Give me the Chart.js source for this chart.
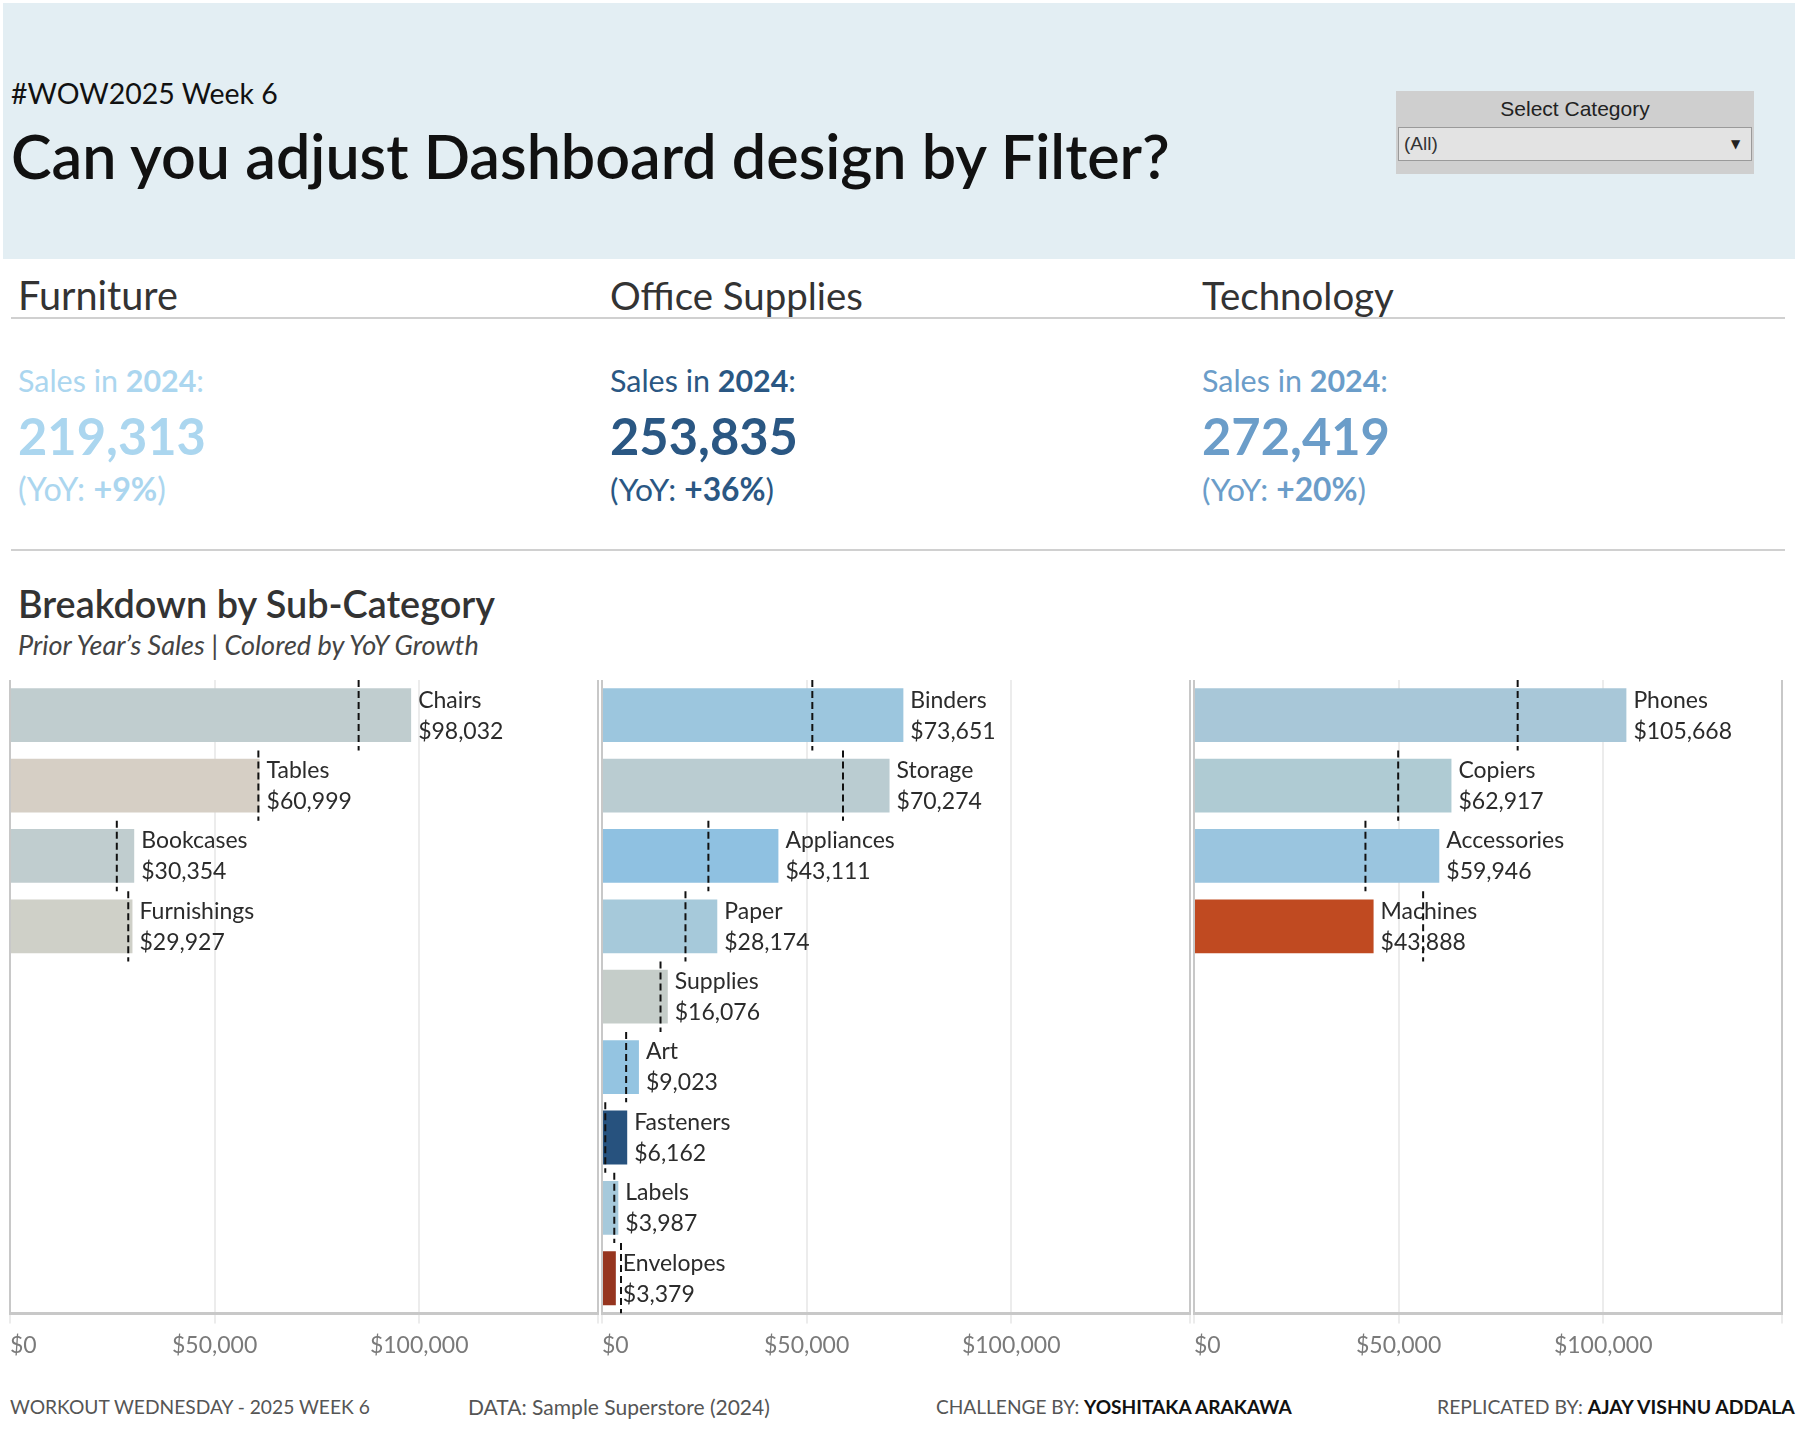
<!DOCTYPE html>
<html>
<head>
<meta charset="utf-8">
<title>WOW2025 Week 6</title>
<script src="https://cdn.jsdelivr.net/npm/chart.js@4.4.1/dist/chart.umd.min.js"></script>
<style>
  body { margin: 0; width: 1798px; height: 1436px; position: relative; overflow: hidden; background: #fff; font-family: Lato, 'Noto Sans', sans-serif; color: #333; }
  .abs { position: absolute; white-space: nowrap; line-height: 1.2; transform: translateY(-50%); }
  .box { position: absolute; }
  .rule { position: absolute; height: 2px; background: #d0d0d0; }
  .panel { position: absolute; top: 670px; width: 606px; height: 697px; }
  .foot { color: #555; font-size: 19px; }
  .foot b { color: #111; }
</style>
</head>
<body>

<div class="box" style="left:3px;top:3px;width:1792px;height:256px;background:#e3eef3"></div>
<div class="abs" style="left:11px;top:93px;font-size:27px;color:#111" data-w="267">#WOW2025 Week 6</div>
<div class="abs" style="left:11px;top:156px;font-size:56px;font-weight:600;color:#111" data-w="1159">Can you adjust Dashboard design by Filter?</div>

<div class="box" style="left:1396px;top:91px;width:358px;height:83px;background:#cfcfcf"></div>
<div class="abs" style="left:1396px;top:109px;width:358px;text-align:center;font-family:'Liberation Sans',Arial,sans-serif;font-size:21px;color:#222">Select Category</div>
<div class="box" style="left:1398px;top:127px;width:352px;height:32px;background:#e3e3e3;border:1px solid #9a9a9a"></div>
<div class="abs" style="left:1404px;top:144px;font-family:'Liberation Sans',Arial,sans-serif;font-size:19px;color:#333">(All)</div>
<div class="abs" style="left:1731px;top:144px;font-family:'DejaVu Sans',sans-serif;font-size:12px;color:#222">&#9660;</div>

<div class="rule" style="left:11px;top:317px;width:1774px"></div>
<div class="rule" style="left:11px;top:549px;width:1774px"></div>

<div id="kpis"></div>

<div class="abs" style="left:18px;top:604px;font-size:36px;font-weight:600;color:#333" data-w="477">Breakdown by Sub-Category</div>
<div class="abs" style="left:18px;top:645px;font-size:22px;font-style:italic;color:#444" data-w="461">Prior Year’s Sales | Colored by YoY Growth</div>

<div class="panel" style="left:0px"><canvas id="furnitureChart"></canvas></div>
<div class="panel" style="left:592px"><canvas id="officeChart"></canvas></div>
<div class="panel" style="left:1184px"><canvas id="techChart"></canvas></div>

<div class="abs foot" style="left:10px;top:1407px" data-w="360">WORKOUT WEDNESDAY - 2025 WEEK 6</div>
<div class="abs foot" style="left:468px;top:1407px" data-w="302">DATA: Sample Superstore (2024)</div>
<div class="abs foot" style="left:936px;top:1407px" data-w="356">CHALLENGE BY: <b>YOSHITAKA ARAKAWA</b></div>
<div class="abs foot" style="left:1437px;top:1407px" data-w="358">REPLICATED BY: <b>AJAY VISHNU ADDALA</b></div>

<script>
// KPI header values
const categoryTitles = ['Furniture', 'Office Supplies', 'Technology'];
const salesTotals = [219313, 253835, 272419];
const yoyGrowth = [9, 36, 20];
const salesYear = 2024;

// sub-category sales (current year) and prior year sales (dashed marks)
const furnitureNames = ['Chairs', 'Tables', 'Bookcases', 'Furnishings'];
const furnitureSales = [98032, 60999, 30354, 29927];
const furniturePrior = [85200, 60700, 26100, 28900];

const officeNames = ['Binders', 'Storage', 'Appliances', 'Paper', 'Supplies', 'Art', 'Fasteners', 'Labels', 'Envelopes'];
const officeSales = [73651, 70274, 43111, 28174, 16076, 9023, 6162, 3987, 3379];
const officePrior = [51400, 58900, 26000, 20400, 14300, 5900, 800, 3000, 4650];

const techNames = ['Phones', 'Copiers', 'Accessories', 'Machines'];
const techSales = [105668, 62917, 59946, 43888];
const techPrior = [79100, 49900, 41900, 56000];

const axisTicks = [0, 50000, 100000];
const axisMax = 143700;

// styles
const kpiColors = ['#abd6ef', '#2a5783', '#6b9dc9'];
const kpiLefts = [18, 610, 1202];
const titleWidths = [160, 253, 192];
const yoyWidths = [148, 164, 164];
const furnitureColors = ['#c0cdcf', '#d6cfc5', '#c0cdcf', '#cfd0c8'];
const officeColors = ['#9cc6de', '#baccd1', '#8fc1e1', '#a6c9da', '#c5cdc9', '#94c4e1', '#27527e', '#a6c9db', '#96351f'];
const techColors = ['#a8c7d8', '#afcbd3', '#9ac5df', '#c04a21'];
const ROWS = officeNames.length;

function fmt(n) {
    return n.toLocaleString('en-US');
}

// category headers + KPI blocks
const kpiHost = document.getElementById('kpis');
categoryTitles.forEach((title, i) => {
    const left = kpiLefts[i];
    const c = kpiColors[i];
    kpiHost.insertAdjacentHTML('beforeend', `
        <div class="abs" style="left:${left}px;top:295px;font-size:34px;color:#333" data-w="${titleWidths[i]}">${title}</div>
        <div class="abs" style="left:${left}px;top:380px;font-size:28px;color:${c}" data-w="186">Sales in <b>${salesYear}</b>:</div>
        <div class="abs" style="left:${left}px;top:436px;font-size:52px;font-weight:700;color:${c}" data-w="188">${fmt(salesTotals[i])}</div>
        <div class="abs" style="left:${left}px;top:489px;font-size:29px;color:${c}" data-w="${yoyWidths[i]}">(YoY: <b>+${yoyGrowth[i]}%</b>)</div>
    `);
});

// squeeze texts to the widths measured on the reference
document.querySelectorAll('[data-w]').forEach(el => {
    const target = +el.dataset.w;
    const fs = parseFloat(getComputedStyle(el).fontSize);
    const w = el.getBoundingClientRect().width;
    el.style.fontSize = (fs * target / w) + 'px';
});

// name + value labels at the end of each bar
const barLabels = {
    id: 'barLabels',
    afterDatasetDraw(chart, args) {
        if (args.index !== 0) return;
        const ctx = chart.ctx;
        const names = chart.data.labels;
        const values = chart.data.datasets[0].data;
        ctx.save();
        ctx.font = '23px Lato';
        ctx.fillStyle = '#2b2b2b';
        ctx.textAlign = 'left';
        ctx.textBaseline = 'middle';
        args.meta.data.forEach((bar, i) => {
            ctx.fillText(names[i], bar.x + 7, bar.y - 15);
            ctx.fillText('$' + fmt(values[i]), bar.x + 7, bar.y + 16);
        });
        ctx.restore();
    }
};

function buildPanel(canvasId, names, sales, prior, colors) {
    const rowLabels = names.concat(Array(ROWS - names.length).fill(''));
    const refPoints = [];
    prior.forEach((v, i) => {
        refPoints.push({x: v, y: i - 0.5}, {x: v, y: i + 0.5}, {x: null, y: null});
    });

    return new Chart(document.getElementById(canvasId), {
        type: 'bar',
        data: {
            labels: rowLabels,
            datasets: [{
                data: sales,
                backgroundColor: colors,
                barPercentage: 0.765,
                categoryPercentage: 1,
                grouped: false,
                order: 2
            }, {
                type: 'line',
                data: refPoints,
                yAxisID: 'y2',
                borderColor: '#111',
                borderWidth: 2,
                borderDash: [7, 4],
                pointRadius: 0,
                spanGaps: false,
                tension: 0,
                order: 1
            }]
        },
        options: {
            indexAxis: 'y',
            responsive: true,
            maintainAspectRatio: false,
            animation: false,
            layout: { padding: { left: 10, right: 4, top: 10, bottom: 0 } },
            plugins: {
                legend: { display: false },
                tooltip: { enabled: false }
            },
            scales: {
                x: {
                    min: 0,
                    max: axisMax,
                    afterBuildTicks: scale => {
                        scale.ticks = axisTicks.concat([axisMax]).map(v => ({ value: v }));
                    },
                    grid: {
                        color: c => (c.tick && (c.tick.value === 0 || c.tick.value === axisMax)) ? '#c8c8c8' : '#ececec',
                        tickColor: '#ececec',
                        lineWidth: 2,
                        tickLength: 10
                    },
                    border: { display: true, color: '#c8c8c8', width: 3 },
                    ticks: {
                        align: 'inner',
                        autoSkip: false,
                        maxRotation: 0,
                        padding: 8,
                        color: '#7a7a7a',
                        font: { family: 'Lato', size: 23 },
                        callback: v => v === axisMax ? '' : '$' + fmt(v)
                    }
                },
                y: { display: false },
                y2: { type: 'linear', display: false, offset: false, grid: { offset: false }, min: -0.5, max: ROWS - 0.5, reverse: true }
            }
        },
        plugins: [barLabels]
    });
}

buildPanel('furnitureChart', furnitureNames, furnitureSales, furniturePrior, furnitureColors);
buildPanel('officeChart', officeNames, officeSales, officePrior, officeColors);
buildPanel('techChart', techNames, techSales, techPrior, techColors);
</script>
</body>
</html>
